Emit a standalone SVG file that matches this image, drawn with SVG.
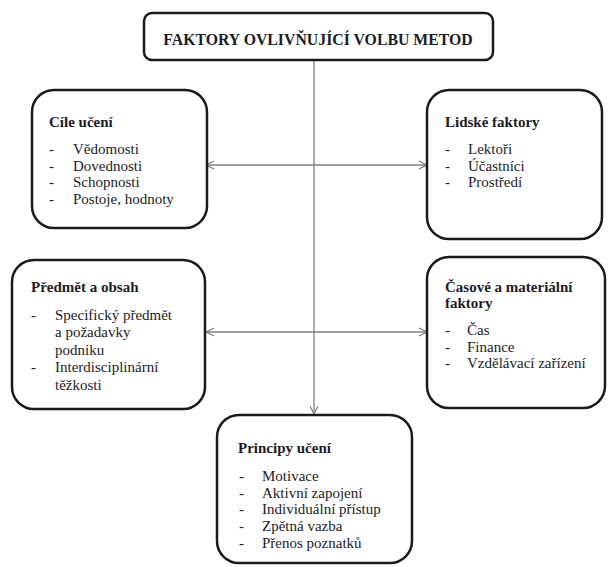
<svg xmlns="http://www.w3.org/2000/svg" width="608" height="567" viewBox="0 0 608 567">
<defs>
<marker id="arr" viewBox="0 0 10 10" refX="9" refY="5" markerWidth="10" markerHeight="10" markerUnits="userSpaceOnUse" orient="auto-start-reverse">
<path d="M1,1 L9,5 L1,9" fill="none" stroke="#808080" stroke-width="1.2"/>
</marker>
<style>
.box{fill:#fff;stroke:#1a1a1a;stroke-width:2.5}
.t{font-family:"Liberation Serif","Times New Roman",serif;font-size:15px;fill:#1c1c28}
.h{font-size:15.8px}
.b{font-weight:bold}
.c{fill:none;stroke:#808080;stroke-width:1.3}
</style>
</defs>
<rect width="608" height="567" fill="#fff"/>
<g id="connectors">
<line class="c" x1="314" y1="60" x2="314" y2="414" marker-end="url(#arr)"/>
<line class="c" x1="206" y1="165" x2="427" y2="165" marker-start="url(#arr)" marker-end="url(#arr)"/>
<line class="c" x1="206" y1="332" x2="427" y2="332" marker-start="url(#arr)" marker-end="url(#arr)"/>
</g>
<g id="title">
<rect class="box" x="144" y="13" width="349" height="47" rx="8"/>
<text class="t b h" x="318" y="45" text-anchor="middle">FAKTORY OVLIVŇUJÍCÍ VOLBU METOD</text>
</g>
<g id="cile">
<rect class="box" x="32" y="90" width="175" height="138" rx="22"/>
<text class="t b" x="49" y="127">Cíle učení</text>
<g class="t">
<text x="49" y="154">-</text><text x="73" y="154">Vědomosti</text>
<text x="49" y="170.7">-</text><text x="73" y="170.7">Dovednosti</text>
<text x="49" y="187.4">-</text><text x="73" y="187.4">Schopnosti</text>
<text x="49" y="204.1">-</text><text x="73" y="204.1">Postoje, hodnoty</text>
</g>
</g>
<g id="lidske">
<rect class="box" x="427" y="90" width="175" height="149" rx="22"/>
<text class="t b" x="445" y="127">Lidské faktory</text>
<g class="t">
<text x="445" y="154">-</text><text x="468" y="154">Lektoři</text>
<text x="445" y="170.7">-</text><text x="468" y="170.7">Účastníci</text>
<text x="445" y="187.4">-</text><text x="468" y="187.4">Prostředí</text>
</g>
</g>
<g id="predmet">
<rect class="box" x="12" y="260" width="193" height="149" rx="22"/>
<text class="t b" x="31" y="292">Předmět a obsah</text>
<g class="t">
<text x="31" y="320">-</text><text x="55" y="320">Specifický předmět</text>
<text x="55" y="337.4">a požadavky</text>
<text x="55" y="354.8">podniku</text>
<text x="31" y="372.2">-</text><text x="55" y="372.2">Interdisciplinární</text>
<text x="55" y="389.6">těžkosti</text>
</g>
</g>
<g id="casove">
<rect class="box" x="427" y="257" width="178" height="151" rx="22"/>
<text class="t b" x="445" y="291.5">Časové a materiální</text>
<text class="t b" x="445" y="308.3">faktory</text>
<g class="t">
<text x="445" y="335">-</text><text x="467" y="335">Čas</text>
<text x="445" y="351.7">-</text><text x="467" y="351.7">Finance</text>
<text x="445" y="368.4">-</text><text x="467" y="368.4">Vzdělávací zařízení</text>
</g>
</g>
<g id="principy">
<rect class="box" x="217" y="415" width="195" height="148" rx="22"/>
<text class="t b" x="238" y="453">Principy učení</text>
<g class="t">
<text x="239" y="481">-</text><text x="262" y="481">Motivace</text>
<text x="239" y="497.7">-</text><text x="262" y="497.7">Aktivní zapojení</text>
<text x="239" y="514.4">-</text><text x="262" y="514.4">Individuální přístup</text>
<text x="239" y="531.1">-</text><text x="262" y="531.1">Zpětná vazba</text>
<text x="239" y="547.8">-</text><text x="262" y="547.8">Přenos poznatků</text>
</g>
</g>
</svg>
